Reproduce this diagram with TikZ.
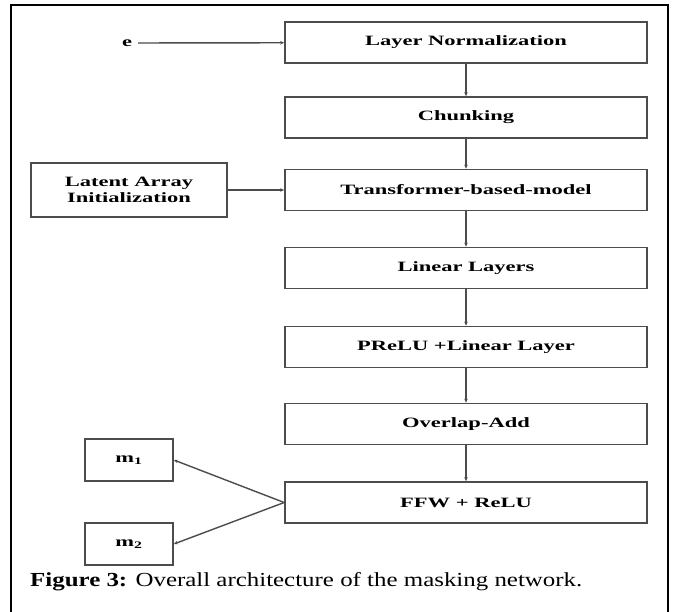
\documentclass[tikz,border=0pt]{standalone}
\usepackage{fontspec}
\setmainfont{Liberation Serif}
\newfontfamily\boxfont[FakeStretch=1.58]{Liberation Serif}
\newfontfamily\capfont[FakeStretch=1.25]{Liberation Serif}
\usetikzlibrary{arrows.meta}

\begin{document}
\begin{tikzpicture}[x=1bp, y=-1bp,
        blk/.style={draw=black!70, line width=1.7bp, minimum width=362bp, minimum height=41bp, inner sep=0pt,
            font=\boxfont\fontsize{14.3}{16}\selectfont\bfseries},
        sidebox/.style={blk, minimum width=88bp, minimum height=42bp},
        arr/.style={-{Stealth[length=4bp,width=3.5bp]}, draw=black!70, line width=1.4bp}]
        \useasboundingbox (0,0) rectangle (673,612);
        \draw[line width=2bp] (11,615) -- (11,5) -- (668,5) -- (668,615);
        % main column
        \node[blk] (norm) at (466,42.5) {Layer Normalization};
        \node[blk] (chunk) at (466,117.5) {Chunking};
        \node[blk] (trans) at (466,190) {Transformer-based-model};
        \node[blk] (lin) at (466,268) {Linear Layers};
        \node[blk] (prelu) at (466,347) {PReLU +Linear Layer};
        \node[blk] (ola) at (466,424) {Overlap-Add};
        \node[blk] (ffw) at (466,502.5) {FFW + ReLU};
        % inputs and outputs
        \node[font=\boxfont\fontsize{14.3}{16}\selectfont\bfseries, inner sep=6bp] (e) at (127,43) {e};
        \node[blk, minimum width=196bp, minimum height=54bp, align=center] (latent) at (129,190) {Latent Array\\Initialization};
        \node[sidebox] (m1) at (129,460) {m\textsubscript{1}};
        \node[sidebox] (m2) at (129,544) {m\textsubscript{2}};
        \draw[arr] (e) -- (norm);
        \draw[arr] (latent) -- (trans);
        \draw[arr] (norm) -- (chunk);
        \draw[arr] (chunk) -- (trans);
        \draw[arr] (trans) -- (lin);
        \draw[arr] (lin) -- (prelu);
        \draw[arr] (prelu) -- (ola);
        \draw[arr] (ola) -- (ffw);
        \draw[arr] (ffw.west) -- (m1.east);
        \draw[arr] (ffw.west) -- (m2.east);
        \node[font=\capfont\fontsize{20}{24}\selectfont, anchor=base west, inner sep=0pt] (cap) at (30,586)
            {{\bfseries Figure 3:} Overall architecture of the masking network.};
    \end{tikzpicture}
\end{document}
